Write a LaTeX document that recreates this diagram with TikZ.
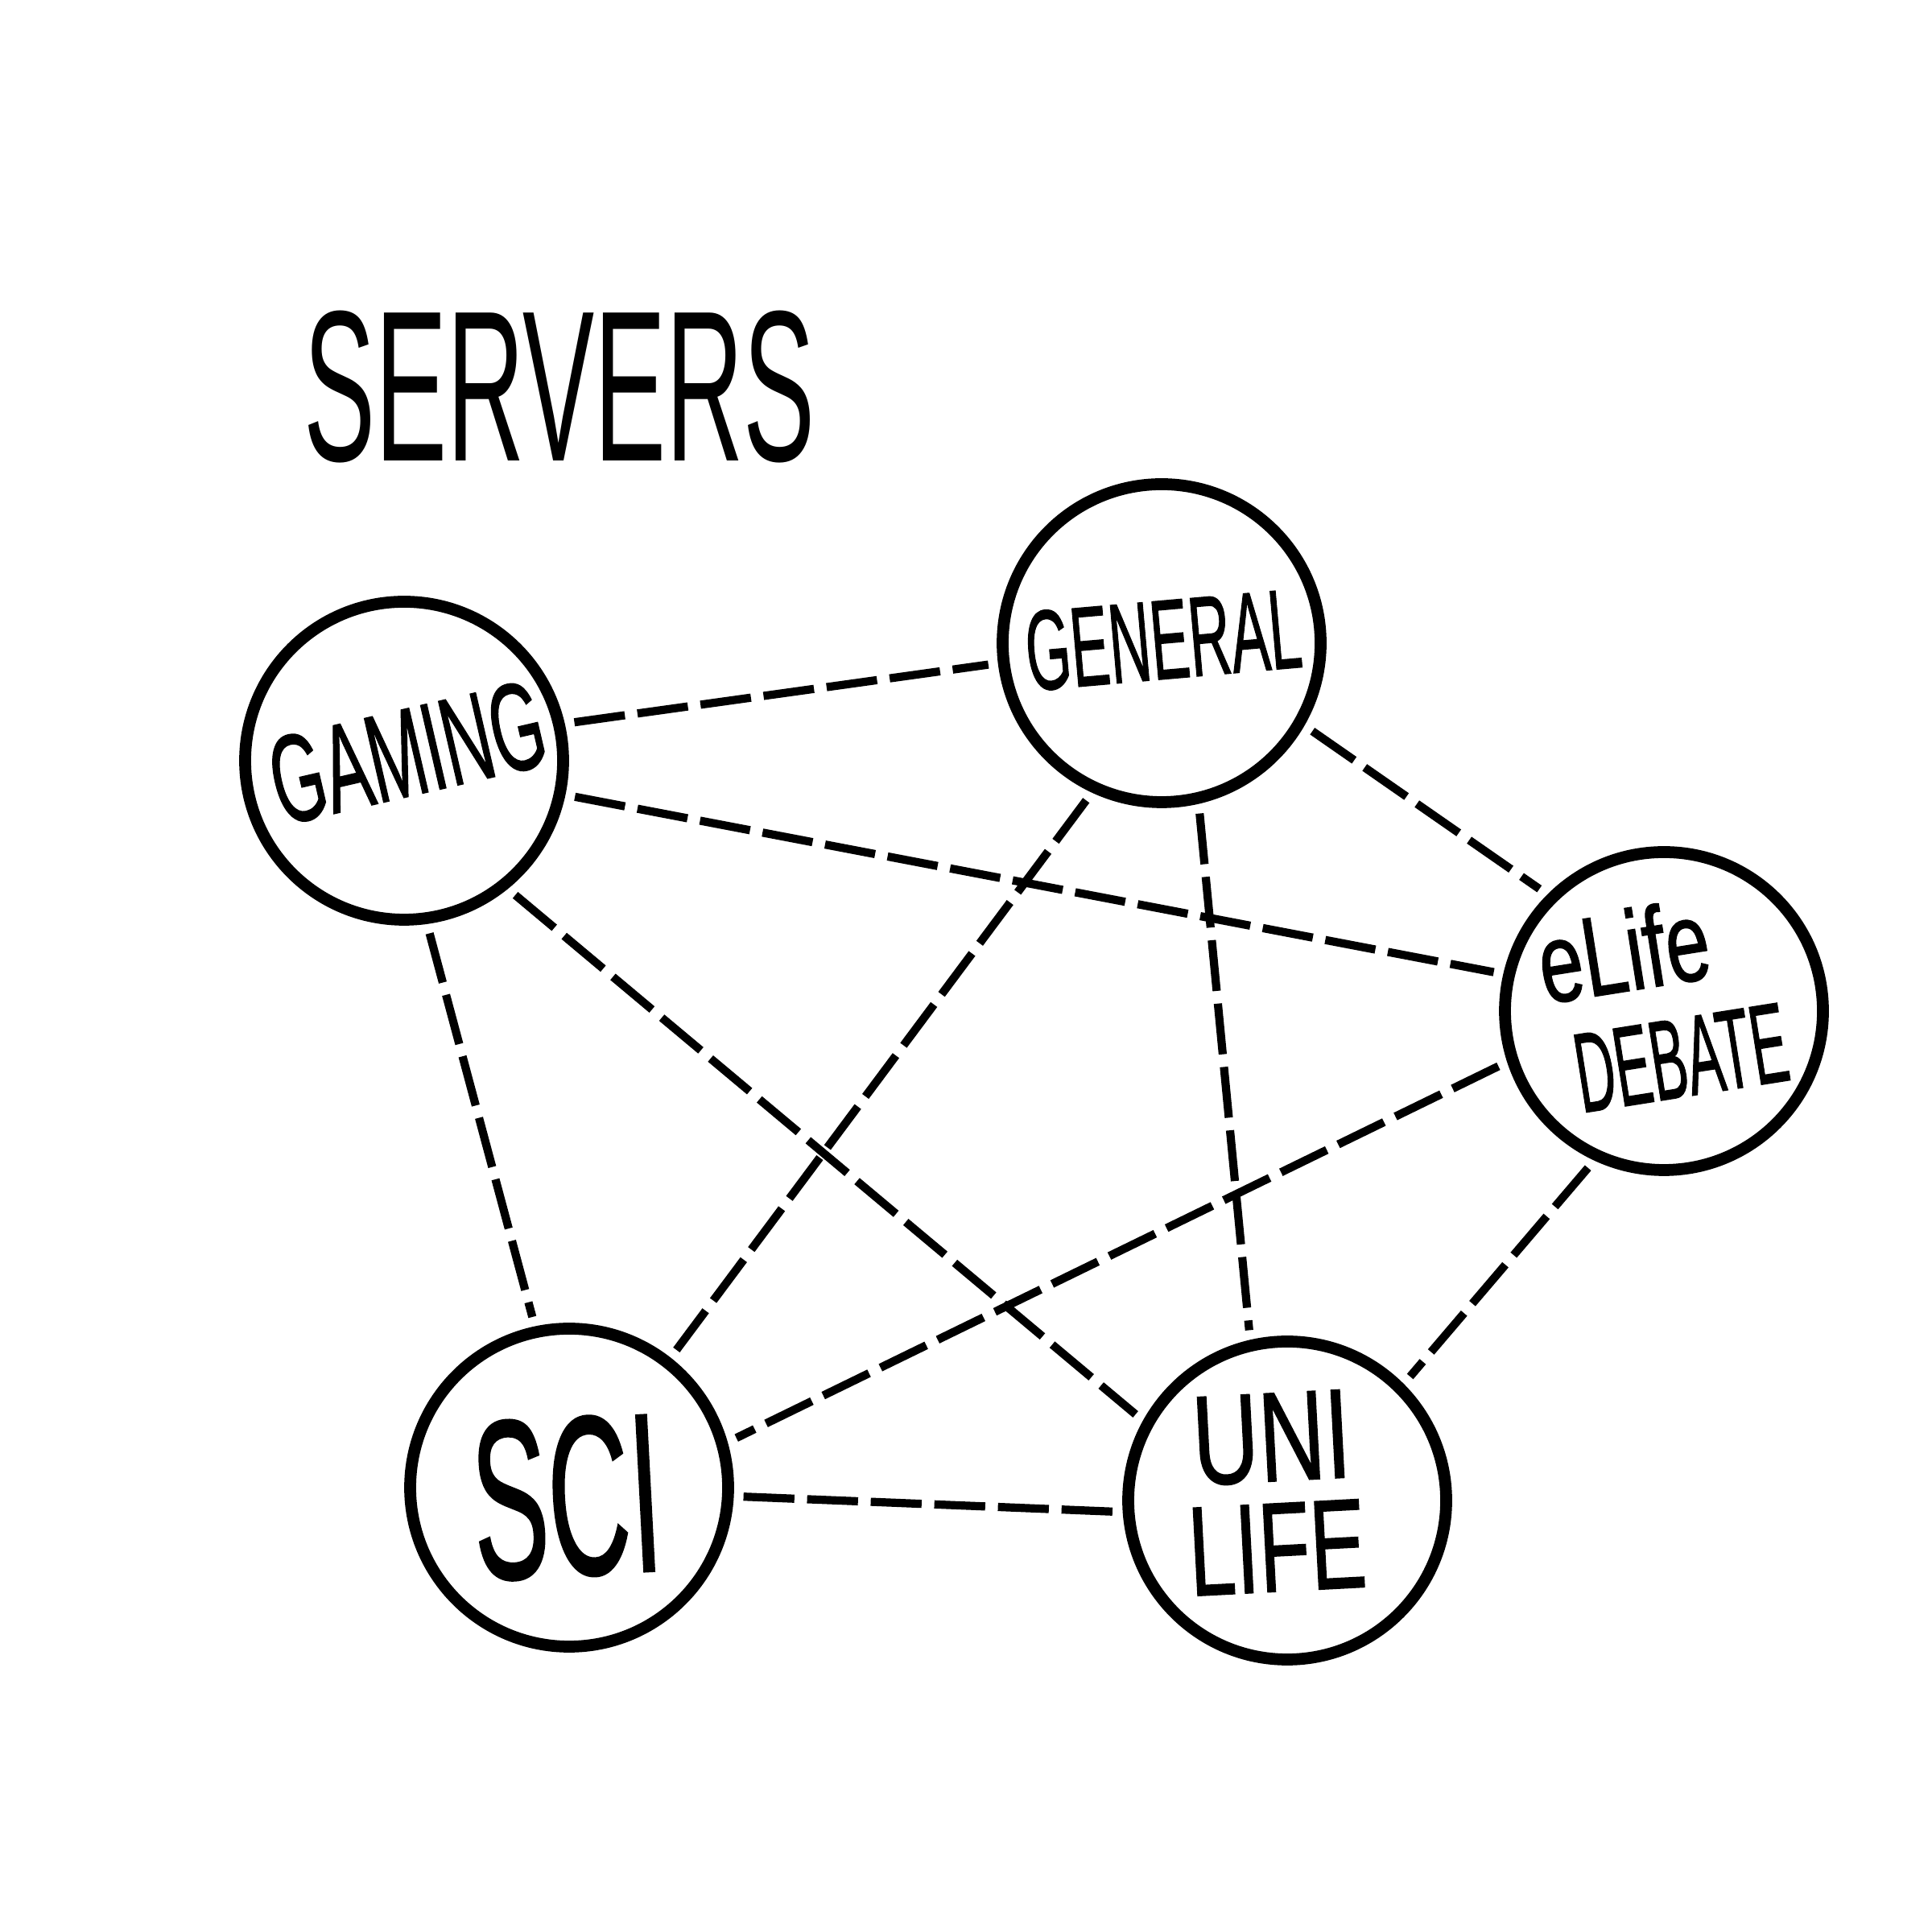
\documentclass[tikz,border=0pt]{standalone}
\usepackage{fontspec}
\newfontfamily\handfont{Liberation Sans}
\newfontfamily\labelfont[FakeBold=1.2]{Liberation Sans}
\newcommand{\squeeze}[2]{\scalebox{#1}[1]{#2}}

\begin{document}
\begin{tikzpicture}[
        server/.style={draw, circle, line width=4.2pt, minimum size=3.95cm,
            inner sep=0pt},
        tag/.style={inner sep=0pt, align=center},
        link/.style={line width=2.9pt, dash pattern=on 18pt off 4.5pt,
            shorten >=0.12cm, shorten <=0.12cm}
    ]
    \useasboundingbox (0,0) rectangle (24,24);
    \fill[white] (0,0) rectangle (24,24);

    \node[font=\handfont\fontsize{76}{80}\selectfont] (title) at (6.95,19.19)
        {\squeeze{0.5}{SERVERS}};

    \node[server] (gaming) at (5.02,14.55) {};
    \node[server] (general) at (14.43,16.01) {};
    \node[server] (elife) at (20.67,11.44) {};
    \node[server] (sci) at (7.07,5.52) {};
    \node[server] (uni) at (15.99,5.36) {};

    \node[tag, rotate=13, font=\labelfont\fontsize{44}{48}\selectfont] (gamingtext)
        at ([shift={(0.04,0.1)}]gaming.center) {\squeeze{0.55}{GAMING}};
    \node[tag, rotate=5, font=\labelfont\fontsize{40}{44}\selectfont] (generaltext)
        at ([shift={(0.02,0.04)}]general.center) {\squeeze{0.51}{GENERAL}};
    \node[tag, rotate=9, font=\labelfont\fontsize{40}{40}\selectfont] (elifetext)
        at ([shift={(0.1,0.14)}]elife.center)
        {\squeeze{0.7}{eLife}\hspace*{1cm}\\\squeeze{0.48}{DEBATE}};
    \node[tag, rotate=3, font=\labelfont\fontsize{80}{84}\selectfont] (scitext)
        at ([shift={(-0.03,-0.12)}]sci.center) {\squeeze{0.5}{SCI}};
    \node[tag, rotate=3, font=\labelfont\fontsize{45}{39}\selectfont] (unitext)
        at ([shift={(-0.16,0.1)}]uni.center) {\squeeze{0.72}{UNI}\\\squeeze{0.66}{LIFE}};

    % links
    \draw[link] (gaming.13) -- (general.187);
    \draw[link] (gaming.-12) -- (elife.167);
    \draw[link] (gaming.-51) -- (uni.151);
    \draw[link] (gaming.-82) -- (sci.102);
    \draw[link] (general.-115) -- (sci.52);
    \draw[link] (general.-77) -- (uni.103);
    \draw[link] (general.-30) -- (elife.135);
    \draw[link] (elife.198) -- (sci.16);
    \draw[link] (elife.245) -- (uni.45);
    \draw[link] (sci.-3) -- (uni.184);
\end{tikzpicture}
\end{document}
